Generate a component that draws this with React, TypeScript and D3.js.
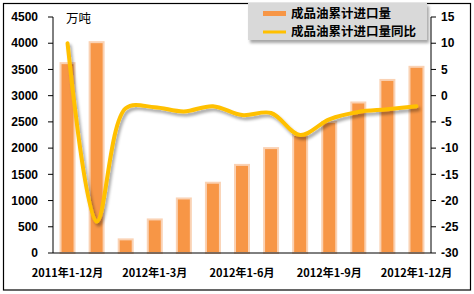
import React from "react";
import * as d3 from "d3";

const categories = [
  "2011年1-12月", "2012年1-1月", "2012年1-2月", "2012年1-3月", "2012年1-4月",
  "2012年1-5月", "2012年1-6月", "2012年1-7月", "2012年1-8月", "2012年1-9月",
  "2012年1-10月", "2012年1-11月", "2012年1-12月",
];
const volume = [3620, 4020, 260, 640, 1040, 1340, 1680, 2000, 2250, 2500, 2870, 3300, 3550];
const yoy = [10, -24, -2.4, -2.2, -3, -2, -3.7, -3.3, -7.5, -4.5, -3.1, -2.6, -2.0];
const leftTicks = [0, 500, 1000, 1500, 2000, 2500, 3000, 3500, 4000, 4500];
const rightTicks = [-30, -25, -20, -15, -10, -5, 0, 5, 10, 15];
const labelIdx = [0, 3, 6, 9, 12];
const seriesNames = ["成品油累计进口量", "成品油累计进口量同比"];

const W = 474, H = 294;
const L = 53, R = 431, T = 17, B = 253;

export default function App() {
  const x = d3.scaleBand<string>().domain(categories).range([L, R]).paddingInner(0).paddingOuter(0);
  const yl = d3.scaleLinear().domain([0, 4500]).range([B, T]);
  const yr = d3.scaleLinear().domain([-30, 15]).range([B, T]);
  const cx = (c: string) => (x(c) ?? 0) + x.bandwidth() / 2;
  const line = d3
    .line<number>()
    .x((_, i) => cx(categories[i]))
    .y((d) => yr(d))
    .curve(d3.curveCatmullRom.alpha(0.5));
  const path = line(yoy) ?? "";
  const bw = 14;
  const tickFont = "'Liberation Sans', Arial, sans-serif";
  const cjk = "'Noto Sans CJK SC', sans-serif";
  return (
    <svg width={W} height={H} style={{ position: "absolute", left: 0, top: 0, background: "#fff" }}>
      <defs>
        <filter id="sh" x="-10%" y="-10%" width="130%" height="140%">
          <feGaussianBlur in="SourceAlpha" stdDeviation="1.5" />
          <feOffset dx="2" dy="3" result="b" />
          <feComponentTransfer><feFuncA type="linear" slope="0.35" /></feComponentTransfer>
          <feMerge><feMergeNode /><feMergeNode in="SourceGraphic" /></feMerge>
        </filter>
      </defs>
      <rect x={3.5} y={3.5} width={467} height={286.5} fill="#fff" stroke="#000" strokeWidth={1.2} />
      {volume.map((v, i) => (
        <rect key={i} x={cx(categories[i]) - bw / 2} y={yl(v)} width={bw} height={B - yl(v)}
          fill="#F79646" stroke="#FAD2B4" strokeWidth={2} />
      ))}
      <line x1={L} x2={L} y1={T} y2={B} stroke="#000" />
      <line x1={R} x2={R} y1={T} y2={B} stroke="#000" />
      <line x1={L} x2={R} y1={B} y2={B} stroke="#000" />
      {leftTicks.map((t) => (
        <g key={t}>
          <line x1={L - 5} x2={L} y1={yl(t)} y2={yl(t)} stroke="#000" />
          <text x={38} y={yl(t)} dy="0.35em" textAnchor="end" fontFamily={tickFont} fontWeight="bold" fontSize={12}>{t}</text>
        </g>
      ))}
      {rightTicks.map((t) => (
        <g key={t}>
          <line x1={R} x2={R + 5} y1={yr(t)} y2={yr(t)} stroke="#000" />
          <text x={441} y={yr(t)} dy="0.35em" textAnchor="start" fontFamily={tickFont} fontWeight="bold" fontSize={12}>{t}</text>
        </g>
      ))}
      {labelIdx.map((i) => (
        <text key={i} x={cx(categories[i])} y={273} dy="0.35em" textAnchor="middle" fontFamily={cjk} fontWeight="bold" fontSize={11}>{categories[i]}</text>
      ))}
      <text x={66} y={19} dy="0.35em" fontFamily={cjk} fontSize={12.5}>万吨</text>
      <path d={path} fill="none" stroke="#FFC000" strokeWidth={4} strokeLinecap="round" filter="url(#sh)" />
      <g filter="url(#sh)">
        <rect x={248} y={3} width={179} height={37} fill="#D9D9D9" />
      </g>
      <rect x={263} y={11} width={23} height={5} fill="#F79646" />
      <line x1={263} x2={286} y1={32} y2={32} stroke="#FFC000" strokeWidth={3} />
      <text x={291} y={13.5} dy="0.35em" fontFamily={cjk} fontWeight="bold" fontSize={12.5}>{seriesNames[0]}</text>
      <text x={291} y={32} dy="0.35em" fontFamily={cjk} fontWeight="bold" fontSize={12.5}>{seriesNames[1]}</text>
    </svg>
  );
}
